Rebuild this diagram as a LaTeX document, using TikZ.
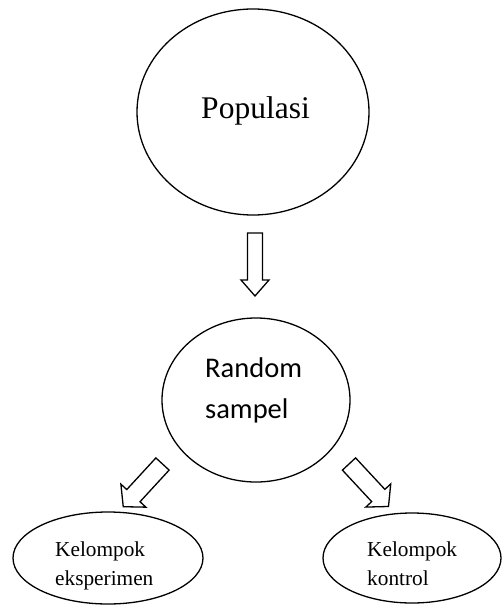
\documentclass[tikz,border=0pt]{standalone}
\usepackage{fontspec}
\setmainfont{Liberation Serif}
\newfontfamily\calfont{Carlito}
\usetikzlibrary{shapes.geometric}
\begin{document}
\begin{tikzpicture}[x=1pt,y=-1pt,
  oval/.style={draw,line width=1.3pt,ellipse,inner sep=0pt},
  fat/.style={draw,line width=1.3pt,line join=miter,fill=white},
  txt/.style={inner sep=0pt,anchor=base west}]
\useasboundingbox (0,0) rectangle (503,607);
% ellipses
\node[oval,minimum width=232pt,minimum height=206pt] (pop) at (253,112) {};
\node[oval,minimum width=188pt,minimum height=164pt] (rand) at (256,400) {};
\node[oval,minimum width=190pt,minimum height=92pt] (eks) at (108,558) {};
\node[oval,minimum width=178pt,minimum height=90pt] (kon) at (412,558) {};
% texts
\node[inner sep=0pt,anchor=base] (tpop) at (255.5,118) {\fontsize{31.5}{38}\selectfont Populasi};
\node[txt] (tr1) at (205,377) {\calfont\fontsize{28.5}{34}\selectfont Random};
\node[txt] (tr2) at (205,418) {\calfont\fontsize{28.5}{34}\selectfont sampel};
\node[txt] (te1) at (55,556) {\fontsize{21.3}{26}\selectfont Kelompok};
\node[txt] (te2) at (55,585) {\fontsize{21.3}{26}\selectfont eksperimen};
\node[txt] (tk1) at (367,556) {\fontsize{21.3}{26}\selectfont Kelompok};
\node[txt] (tk2) at (367,585) {\fontsize{21.3}{26}\selectfont kontrol};
% block arrows (local frame: tail at origin, pointing along +x)
\draw[fat,shift={(255,233)},rotate=-90]
  (0,-7.5) -- (47,-7.5) -- (47,-14) -- (63,0) -- (47,14) -- (47,7.5) -- (0,7.5) -- cycle;
\draw[fat,shift={(162.5,464)},rotate=-132.6]
  (0,-9) -- (43,-9) -- (43,-17) -- (58,0) -- (43,17) -- (43,9) -- (0,9) -- cycle;
\draw[fat,shift={(349,464)},rotate=-47.1]
  (0,-9) -- (43,-9) -- (43,-17) -- (58,0) -- (43,17) -- (43,9) -- (0,9) -- cycle;
\end{tikzpicture}
\end{document}
